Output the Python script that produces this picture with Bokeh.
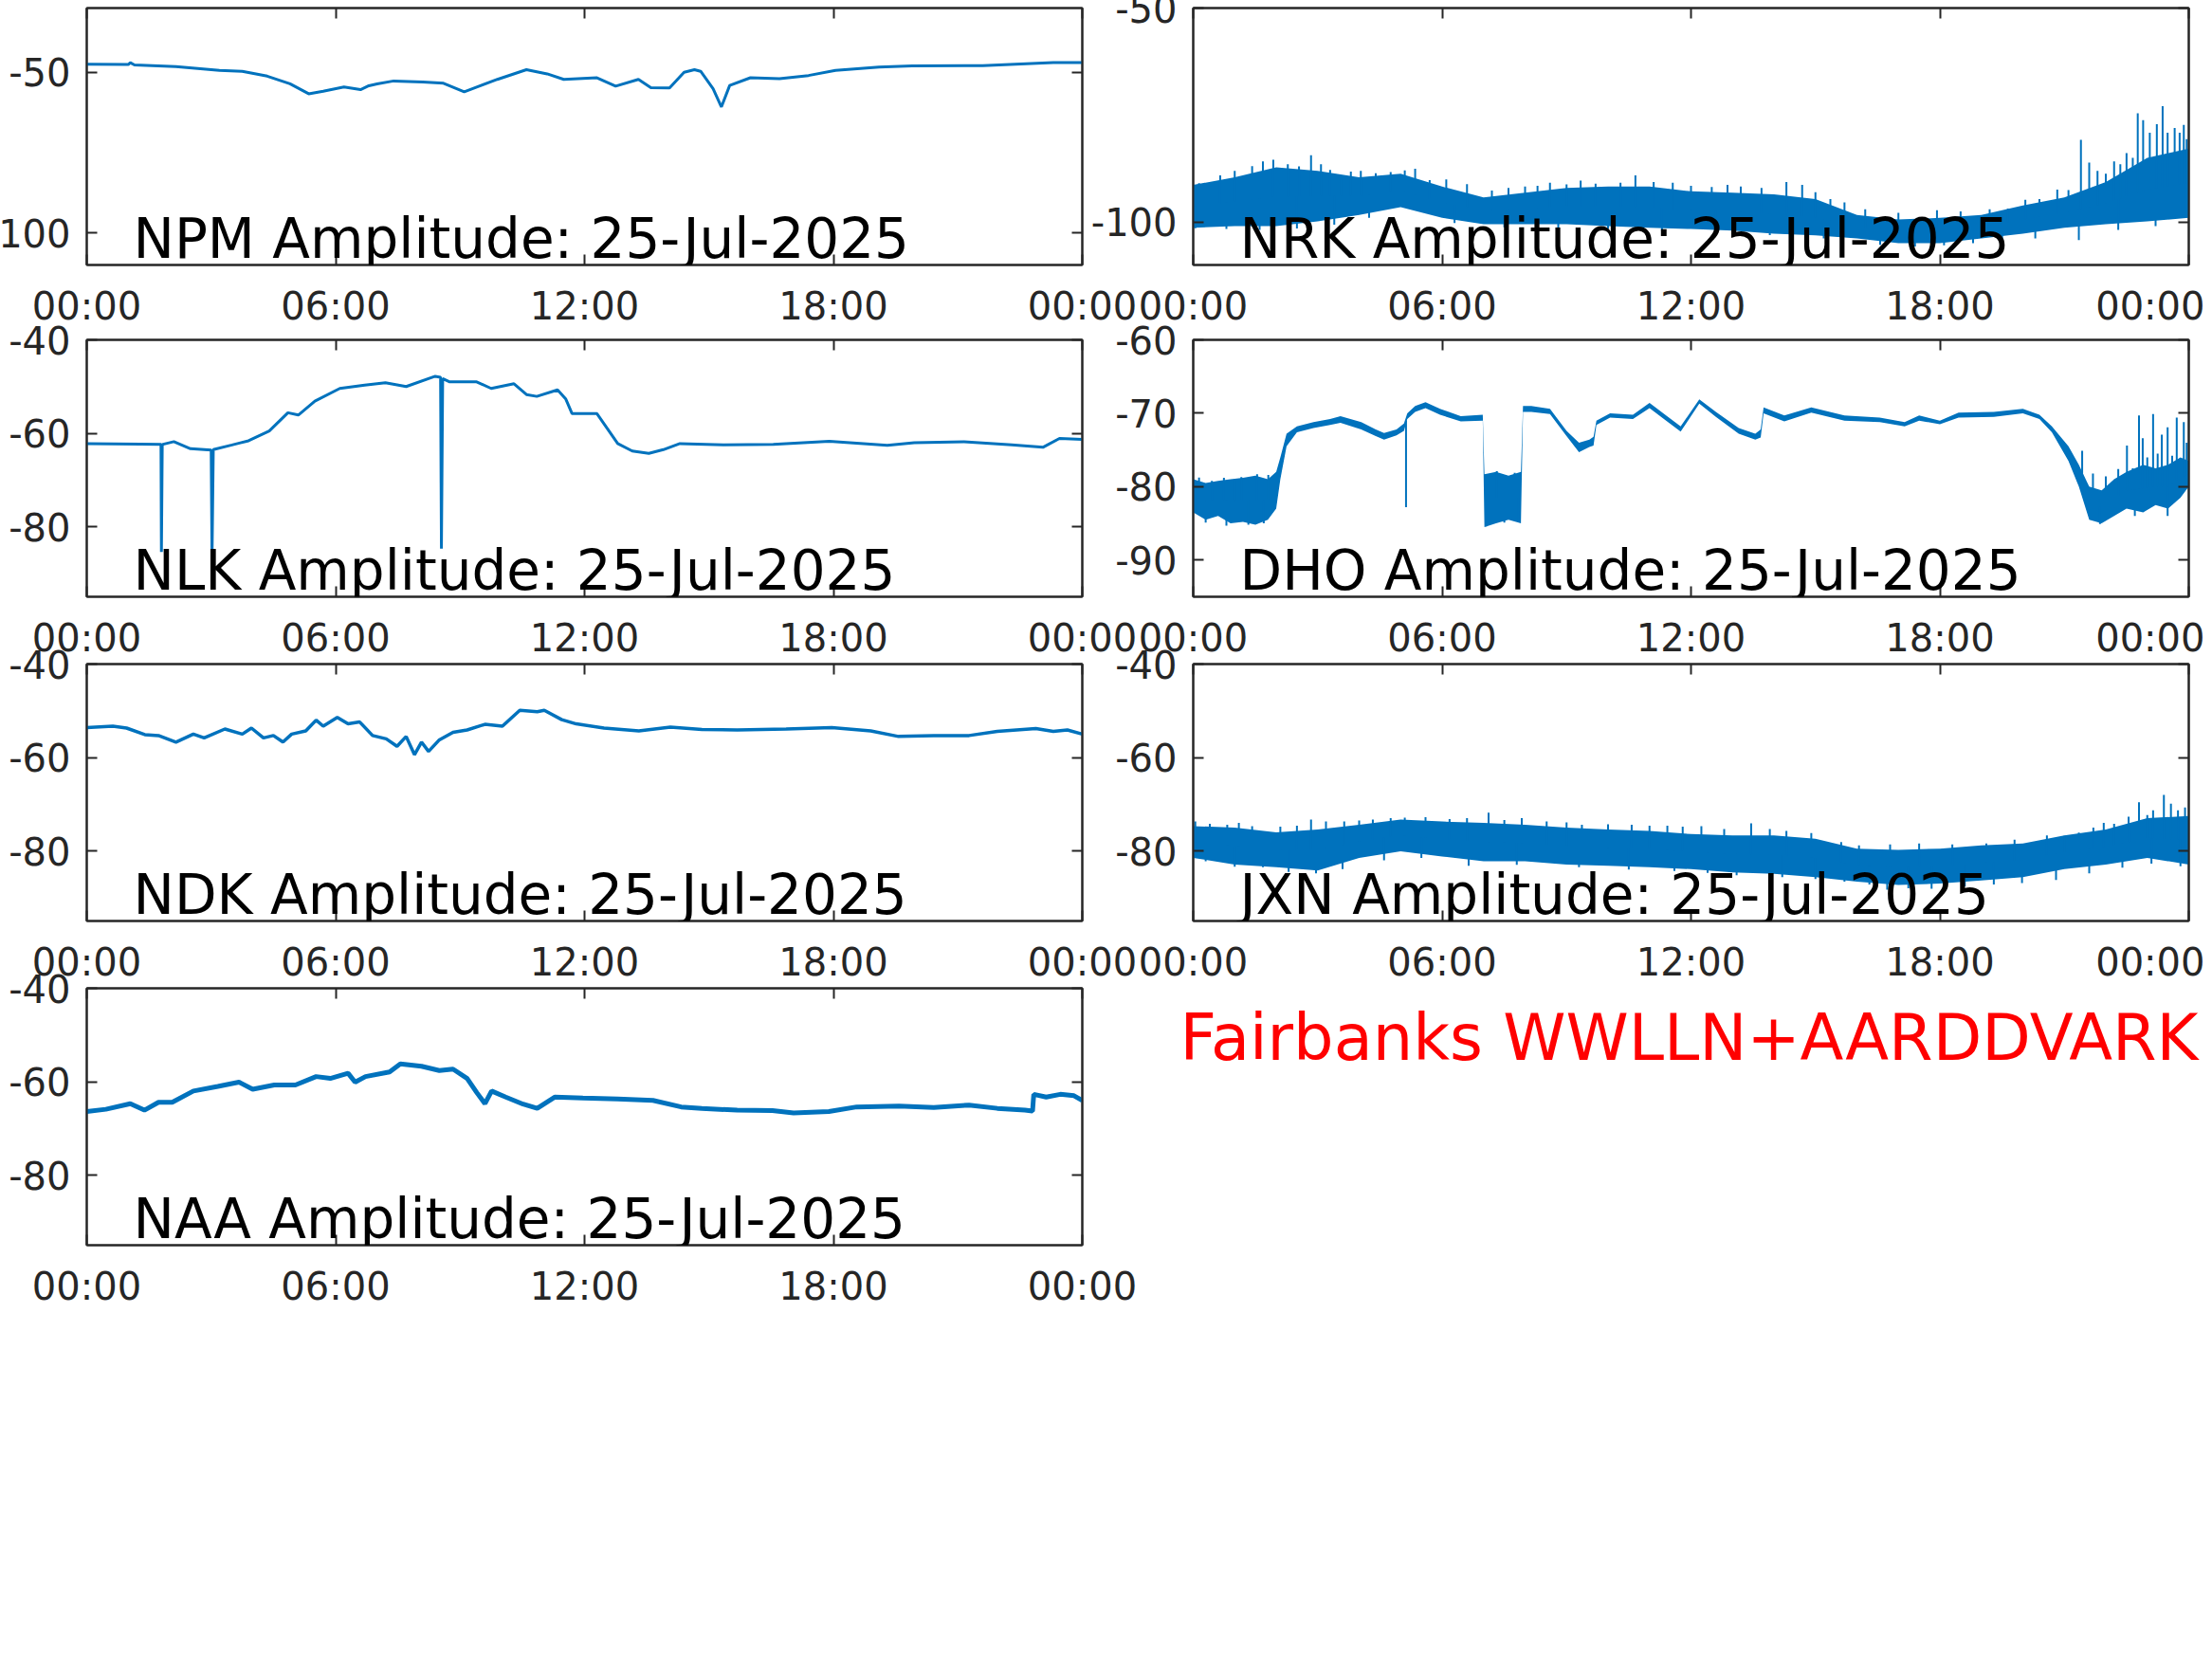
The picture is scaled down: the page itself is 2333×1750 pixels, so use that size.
import numpy as np
from datetime import datetime, timezone
from bokeh.plotting import figure
from bokeh.layouts import column, row
from bokeh.models import (Range1d, FixedTicker, DatetimeTickFormatter, LinearAxis, NumeralTickFormatter,
                          DatetimeAxis, Label, CustomJSTickFormatter)
from bokeh.embed import file_html
from bokeh.resources import INLINE

# ---------------- data ----------------
DATE_TEXT = "25-Jul-2025"
STATIONS = ["NPM", "NRK", "NLK", "DHO", "NDK", "JXN", "NAA"]
HOUR_TICKS = [0, 6, 12, 18, 24]
FOOTER = "Fairbanks WWLLN+AARDDVARK"

NPM_T = [0, 1.0, 1.05, 1.15, 2.15, 3.2, 3.75, 4.35, 4.9, 5.35, 5.7, 6.2, 6.6, 6.8, 7.0, 7.4, 8.1, 8.6, 9.1, 9.4,
         9.9, 10.6, 11.1, 11.5, 12.3, 12.75, 13.3, 13.6, 14.05, 14.4, 14.65, 14.8, 15.1, 15.3, 15.5, 16.0, 16.7,
         17.4, 18.05, 19.1, 19.9, 21.6, 23.3, 24]
NPM_V = [-47.5, -47.6, -47.0, -47.7, -48.2, -49.4, -49.7, -51.2, -53.6, -56.7, -55.9, -54.6, -55.4, -54.2, -53.6,
         -52.7, -53.0, -53.4, -56.1, -54.6, -52.2, -49.2, -50.5, -52.2, -51.7, -54.3, -52.2, -54.8, -54.9, -50.0,
         -49.2, -49.7, -55.1, -60.8, -54.1, -51.7, -52.0, -51.0, -49.4, -48.4, -48.0, -47.9, -47.0, -47.0]

NRK_T = list(range(25))
NRK_HI = [-91.3, -89.5, -87.2, -88.0, -89.5, -88.7, -91.7, -94.2, -93.1, -92.0, -91.7, -91.7, -92.8, -93.1, -93.5,
          -94.6, -98.3, -99.4, -99.0, -98.3, -96.1, -94.2, -90.6, -85.0, -82.8]
NRK_LO = [-101.3, -100.9, -100.9, -99.8, -98.3, -96.5, -99.0, -100.5, -100.5, -100.5, -100.9, -101.3, -101.6,
          -102.0, -102.7, -103.1, -103.8, -104.9, -104.9, -103.8, -102.7, -101.3, -100.5, -99.8, -99.0]
NRK_SPK_T = [0.14, 0.65, 1.0, 1.42, 1.68, 1.93, 2.28, 2.55, 2.84, 3.08, 3.3, 3.56, 3.8, 4.04, 4.4, 4.76, 5.1, 5.35,
             5.7, 6.1, 6.6, 7.2, 7.6, 8.0, 8.3, 8.6, 9.0, 9.34, 9.7, 10.3, 10.66, 11.1, 11.56, 12.0, 12.5, 12.88,
             13.2, 13.7, 14.3, 14.68, 15.0, 15.36, 15.7, 16.2, 17.0, 17.93, 18.5, 19.2, 19.64, 20.06, 20.4, 20.83,
             21.1, 21.4, 21.6, 21.8, 22.0, 22.2, 22.35, 22.5, 22.65, 22.77, 22.9, 23.06, 23.23, 23.37, 23.49, 23.66,
             23.78, 23.88, 23.95,
             0.05, 0.8, 1.6, 2.5, 3.4, 4.24, 6.3, 7.5, 8.8, 10.0, 11.3, 12.6, 13.9, 15.2, 16.56, 17.4, 18.1, 18.8,
             19.5, 20.3, 21.35, 22.3, 23.2]
NRK_SPK_V = [-90.9, -89.1, -88.0, -86.9, -85.8, -85.4, -86.5, -87.0, -84.4, -86.5, -87.8, -89.8, -88.2, -88.0,
             -88.6, -88.3, -87.9, -87.5, -90.2, -90.0, -91.1, -92.6, -92.0, -91.7, -91.5, -90.8, -91.2, -90.3,
             -91.0, -90.8, -89.1, -90.6, -90.8, -91.5, -91.8, -91.3, -91.7, -92.0, -90.6, -91.3, -93.0, -94.6,
             -95.4, -97.0, -97.8, -97.2, -97.5, -97.0, -96.8, -94.8, -94.6, -92.4, -92.5, -80.8, -86.1, -88.0,
             -88.7, -85.8, -86.5, -83.9, -85.0, -74.6, -76.2, -79.1, -77.1, -72.9, -79.1, -78.0, -79.1, -77.3,
             -80.6,
             -101.4, -101.6, -101.8, -101.5, -100.6, -99.0, -100.2, -101.2, -101.3, -101.6, -102.0, -102.4, -103.0,
             -103.8, -105.3, -105.7, -105.4, -104.9, -104.6, -103.8, -104.2, -101.8, -100.9]

NLK_T = [0, 1.3, 1.79, 1.80, 1.82, 2.1, 2.5, 3.0, 3.02, 3.05, 3.5, 3.9, 4.4, 4.85, 5.1, 5.5, 6.1, 6.7, 7.2, 7.7,
         8.4, 8.53, 8.55, 8.58, 8.75, 9.4, 9.75, 10.3, 10.6, 10.85, 11.35, 11.55, 11.7, 12.3, 12.8, 13.15, 13.55,
         13.9, 14.3, 15.35, 16.55, 17.9, 19.3, 19.95, 21.15, 22.3, 23.05, 23.45, 24]
NLK_V = [-62.2, -62.3, -62.4, -85.4, -62.4, -61.8, -63.3, -63.6, -86.7, -63.5, -62.5, -61.6, -59.5, -55.6, -56.1,
         -53.1, -50.4, -49.7, -49.2, -50.0, -47.8, -48.0, -84.7, -48.3, -49.0, -49.0, -50.4, -49.4, -51.7, -52.1,
         -50.7, -52.7, -55.8, -55.8, -62.2, -63.8, -64.3, -63.5, -62.2, -62.5, -62.4, -61.7, -62.6, -62.0, -61.8,
         -62.5, -63.0, -61.1, -61.3]

DHO_T = [0.0, 0.3, 0.6, 0.9, 1.2, 1.5, 1.8, 2.0, 2.1, 2.25, 2.5, 2.9, 3.3, 3.55, 4.05, 4.4, 4.6, 4.9, 5.08, 5.16,
         5.35, 5.6, 5.95, 6.45, 6.98, 7.02, 7.3, 7.6, 7.9, 7.95, 8.15, 8.6, 9.0, 9.3, 9.55, 9.65, 9.72, 10.05, 10.6,
         11.0, 11.4, 11.75, 12.2, 12.6, 13.15, 13.55, 13.68, 13.75, 14.25, 14.9, 15.7, 16.55, 17.15, 17.5, 18.0,
         18.45, 19.3, 20.0, 20.4, 20.7, 21.1, 21.35, 21.6, 21.9, 22.2, 22.5, 22.9, 23.2, 23.5, 23.8, 24.0]
DHO_LO = [-83.5, -84.5, -84.0, -85.0, -84.8, -85.2, -84.5, -83.0, -79.0, -74.5, -72.6, -72.0, -71.6, -71.3, -72.2,
          -73.1, -73.6, -73.0, -72.4, -70.8, -69.8, -69.3, -70.2, -71.1, -71.0, -85.5, -85.0, -84.5, -85.0, -69.8,
          -69.8, -70.1, -73.1, -75.3, -74.6, -74.4, -71.6, -70.6, -70.8, -69.3, -71.0, -72.5, -68.7, -70.5, -72.8,
          -73.6, -73.3, -70.0, -71.1, -69.9, -71.0, -71.2, -71.8, -71.0, -71.5, -70.6, -70.5, -70.0, -70.8, -72.6,
          -76.5, -80.0, -84.5, -85.0, -84.0, -83.0, -83.5, -82.5, -83.0, -81.5, -80.0]
DHO_HI = [-79.0, -79.5, -79.2, -79.0, -78.8, -78.5, -79.0, -78.0, -76.0, -72.8, -71.8, -71.2, -70.8, -70.4, -71.2,
          -72.2, -72.7, -72.2, -71.4, -70.0, -69.0, -68.5, -69.4, -70.4, -70.2, -78.3, -78.0, -78.5, -78.0, -69.0,
          -69.0, -69.4, -72.4, -74.0, -73.6, -73.2, -71.0, -70.0, -70.2, -68.6, -70.3, -71.8, -68.1, -69.8, -72.0,
          -72.8, -72.2, -69.2, -70.3, -69.2, -70.3, -70.6, -71.2, -70.3, -71.0, -69.9, -69.8, -69.4, -70.2, -71.8,
          -74.5, -77.0, -80.0, -80.5, -79.0, -78.0, -77.0, -77.5, -77.0, -76.0, -76.5]
DHO_SPK_T = [0.14, 0.45, 0.74, 1.0, 1.16, 1.54, 1.81, 0.3, 0.8, 1.33, 1.7, 5.13, 7.06, 7.2, 7.32, 7.5, 7.75, 7.83,
             21.43, 21.69, 22.0, 22.3, 22.51, 22.65, 22.8, 22.89, 23.0, 23.14, 23.25, 23.35, 23.49, 23.6, 23.71,
             23.88, 23.95, 21.86, 22.7, 23.49]
DHO_SPK_V = [-78.75, -79.2, -78.8, -79.0, -78.7, -78.3, -78.4, -84.9, -85.3, -85.2, -85.0, -82.8, -85.4, -78.6,
             -77.9, -84.9, -78.1, -84.8, -75.1, -78.2, -78.6, -77.6, -74.4, -77.5, -70.3, -73.4, -76.0, -70.1,
             -75.5, -72.9, -71.9, -75.8, -70.6, -71.2, -74.0, -85.1, -84.0, -84.0]

NDK_T = [0, 0.63, 0.96, 1.4, 1.73, 2.15, 2.57, 2.83, 3.33, 3.75, 3.97, 4.26, 4.5, 4.73, 4.94, 5.28, 5.53, 5.7, 6.04,
         6.3, 6.58, 6.89, 7.22, 7.48, 7.7, 7.9, 8.07, 8.24, 8.49, 8.83, 9.17, 9.6, 10.02, 10.44, 10.86, 11.03, 11.45,
         11.8, 12.47, 13.31, 14.07, 14.83, 15.68, 16.86, 17.96, 18.9, 19.57, 20.42, 21.27, 21.95, 22.88, 23.3, 23.64,
         24]
NDK_V = [-53.6, -53.3, -53.7, -55.1, -55.3, -56.7, -55.0, -55.8, -53.9, -55.0, -53.7, -55.8, -55.3, -56.7, -55.0,
         -54.3, -52.0, -53.3, -51.4, -52.8, -52.4, -55.3, -56.0, -57.6, -55.5, -59.4, -56.7, -58.7, -56.3, -54.6,
         -54.1, -52.9, -53.3, -49.9, -50.2, -49.9, -51.9, -52.8, -53.7, -54.3, -53.5, -54.0, -54.1, -53.9, -53.6,
         -54.3, -55.5, -55.3, -55.3, -54.4, -53.8, -54.4, -54.1, -55.0]

JXN_T = list(range(25))
JXN_HI = [-74.7, -75.0, -76.0, -75.4, -74.4, -73.3, -73.7, -74.0, -74.4, -75.0, -75.4, -75.7, -76.4, -76.7, -76.7,
          -77.4, -79.5, -79.8, -79.5, -78.8, -78.4, -76.7, -75.4, -73.0, -72.5]
JXN_LO = [-81.5, -82.9, -83.5, -84.2, -81.5, -80.1, -81.2, -82.2, -82.2, -82.9, -83.2, -83.5, -83.9, -84.6, -84.9,
          -85.6, -86.6, -87.3, -87.0, -86.3, -85.6, -83.9, -82.9, -81.5, -82.9]
JXN_SPK_T = [0.05, 0.4, 0.82, 1.1, 1.42, 2.1, 2.5, 2.84, 3.2, 3.64, 4.0, 4.33, 4.76, 5.1, 5.6, 6.18, 6.6, 7.12,
             7.5, 7.92, 8.52, 9.0, 9.37, 10.0, 10.57, 11.0, 11.43, 11.8, 12.25, 12.8, 13.45, 13.9, 14.3, 14.9,
             15.62, 16.05, 16.8, 17.5, 18.3, 19.12, 19.8, 20.58, 21.0, 21.35, 21.7, 21.95, 22.2, 22.55, 22.8,
             23.0, 23.14, 23.4, 23.57, 23.74, 23.91,
             0.3, 1.0, 1.68, 2.3, 2.96, 3.6, 4.6, 5.5, 6.64, 7.8, 9.3, 10.5, 11.6, 12.4, 13.1, 14.2, 15.0, 15.7,
             16.3, 16.73, 17.24, 17.8, 18.6, 19.3, 19.98, 20.8, 21.6, 22.4, 23.1, 23.8]
JXN_SPK_V = [-73.7, -74.2, -74.4, -74.0, -74.7, -74.8, -74.6, -73.3, -73.7, -73.7, -73.5, -73.3, -73.0, -72.9,
             -72.8, -73.2, -73.0, -71.8, -73.4, -73.0, -73.7, -73.9, -74.4, -74.3, -74.4, -74.6, -74.6, -74.8,
             -74.7, -75.3, -74.1, -75.3, -75.7, -76.2, -78.1, -78.8, -78.6, -78.4, -78.6, -78.4, -77.6, -76.7,
             -76.8, -76.1, -75.0, -74.0, -74.2, -72.7, -69.6, -72.3, -71.3, -68.0, -69.9, -71.3, -70.7,
             -82.2, -83.4, -83.5, -84.5, -84.8, -83.9, -82.0, -81.5, -83.2, -83.0, -83.5, -84.0, -84.3, -84.7,
             -85.2, -85.6, -86.0, -86.6, -87.2, -88.3, -88.0, -88.1, -87.6, -87.2, -86.9, -86.2, -84.8, -83.6,
             -82.7, -83.3]

NAA_T = [0, 0.46, 1.05, 1.39, 1.73, 2.06, 2.57, 3.16, 3.67, 4.0, 4.52, 5.03, 5.53, 5.87, 6.3, 6.47, 6.72, 7.3, 7.56,
         8.07, 8.5, 8.83, 9.17, 9.4, 9.6, 9.76, 10.1, 10.52, 10.86, 11.28, 11.96, 12.8, 13.65, 14.33, 14.83, 15.68,
         16.53, 17.04, 17.89, 18.56, 19.58, 20.42, 21.27, 21.95, 22.62, 22.8, 22.83, 23.13, 23.47, 23.8, 24]
NAA_V = [-66.4, -65.9, -64.7, -66.1, -64.4, -64.4, -62.0, -61.0, -60.1, -61.6, -60.7, -60.7, -58.9, -59.3, -58.2,
         -60.1, -58.9, -57.9, -56.2, -56.7, -57.6, -57.3, -59.3, -62.3, -64.7, -62.0, -63.3, -64.8, -65.7, -63.3,
         -63.5, -63.7, -64.0, -65.4, -65.7, -66.1, -66.2, -66.7, -66.4, -65.4, -65.2, -65.5, -65.0, -65.7, -66.1,
         -66.3, -62.7, -63.3, -62.7, -63.0, -64.0]

Y_RANGES = {"NPM": (-110, -30), "NRK": (-110, -50), "NLK": (-95, -40), "DHO": (-95, -60),
            "NDK": (-95, -40), "JXN": (-95, -40), "NAA": (-95, -40)}
Y_TICKS = {"NPM": [-100, -50], "NRK": [-100, -50], "NLK": [-80, -60, -40], "DHO": [-90, -80, -70, -60],
           "NDK": [-80, -60, -40], "JXN": [-80, -60, -40], "NAA": [-80, -60, -40]}

# ---------------- styling ----------------
BLUE = "#0072BD"
AXC = "#262626"
FONT = "DejaVu Sans"
T0 = datetime(2025, 7, 25, tzinfo=timezone.utc).timestamp() * 1000.0


def ms(hours):
    return T0 + np.asarray(hours, dtype=float) * 3600000.0


FMT = "%H:%M"
dt_fmt = DatetimeTickFormatter(microseconds=FMT, milliseconds=FMT, seconds=FMT, minsec=FMT, minutes=FMT,
                               hourmin=FMT, hours=FMT, days=FMT, months=FMT, years=FMT,
                               strip_leading_zeros=False)
blank_fmt = CustomJSTickFormatter(code="return ''")


def style_axis(ax, labels):
    ax.axis_line_color = AXC
    ax.axis_line_width = 2
    ax.major_tick_line_color = AXC
    ax.major_tick_line_width = 2
    ax.major_tick_in = 11
    ax.major_tick_out = 0
    ax.minor_tick_in = 0
    ax.minor_tick_out = 0
    ax.minor_tick_line_color = None
    if labels:
        ax.major_label_text_font = FONT
        ax.major_label_text_font_size = "40px"
        ax.major_label_text_color = AXC
    else:
        ax.formatter = blank_fmt
        ax.major_label_text_font_size = "0px"
        ax.major_label_standoff = 0


def panel(name, width, right_border, margin):
    ylo, yhi = Y_RANGES[name]
    p = figure(width=width, height=371, x_axis_type="datetime",
               x_range=Range1d(ms(0), ms(24)), y_range=Range1d(ylo, yhi),
               output_backend="svg", toolbar_location=None,
               min_border_left=120, min_border_right=right_border,
               min_border_top=20, min_border_bottom=80)
    p.border_fill_color = None
    p.background_fill_color = "white"
    p.outline_line_color = AXC
    p.outline_line_width = 2
    p.grid.visible = False
    xt = FixedTicker(ticks=list(ms(HOUR_TICKS)))
    yt = FixedTicker(ticks=Y_TICKS[name])
    xa = p.xaxis[0]
    xa.ticker = xt
    xa.formatter = dt_fmt
    style_axis(xa, True)
    xa.major_label_standoff = 20
    ya = p.yaxis[0]
    ya.ticker = yt
    ya.formatter = NumeralTickFormatter(format="0")
    style_axis(ya, True)
    ya.major_label_standoff = 17
    ra = LinearAxis(ticker=yt)
    style_axis(ra, False)
    p.add_layout(ra, "right")
    ta = DatetimeAxis(ticker=xt)
    style_axis(ta, False)
    p.add_layout(ta, "above")
    p.add_layout(Label(x=ms(0), y=ylo, x_offset=49, y_offset=28, text=f"{name} Amplitude: {DATE_TEXT}",
                       text_font=FONT, text_font_size="58px", text_color="black",
                       text_baseline="alphabetic"))
    p.margin = margin
    return p


def add_band(p, t, lo, hi, spk_t, spk_v):
    p.varea(x=ms(t), y1=lo, y2=hi, fill_color=BLUE)
    mid = (np.asarray(lo) + np.asarray(hi)) / 2.0
    base = np.interp(spk_t, t, mid)
    p.segment(x0=ms(spk_t), y0=spk_v, x1=ms(spk_t), y1=base, line_color=BLUE, line_width=2)


LW, RW = 1240, 1187
LM, RM = -29, -73

f_npm = panel("NPM", LW, 70, (-12, 0, 0, LM))
f_npm.line(ms(NPM_T), NPM_V, line_color=BLUE, line_width=3)

f_nrk = panel("NRK", RW, 17, (-12, 0, 0, RM))
add_band(f_nrk, NRK_T, NRK_LO, NRK_HI, NRK_SPK_T, NRK_SPK_V)

f_nlk = panel("NLK", LW, 70, (-21, 0, 0, LM))
f_nlk.line(ms(NLK_T), NLK_V, line_color=BLUE, line_width=3)

f_dho = panel("DHO", RW, 17, (-21, 0, 0, RM))
add_band(f_dho, DHO_T, DHO_LO, DHO_HI, DHO_SPK_T, DHO_SPK_V)

f_ndk = panel("NDK", LW, 70, (-29, 0, 0, LM))
f_ndk.line(ms(NDK_T), NDK_V, line_color=BLUE, line_width=3.5)

f_jxn = panel("JXN", RW, 17, (-29, 0, 0, RM))
add_band(f_jxn, JXN_T, JXN_LO, JXN_HI, JXN_SPK_T, JXN_SPK_V)

f_naa = panel("NAA", LW, 70, (-29, 0, 0, LM))
f_naa.line(ms(NAA_T), NAA_V, line_color=BLUE, line_width=5)

# footer text panel (pixel-like coordinates, y pointing down)
FW = 1114
f_foot = figure(width=FW, height=371, x_range=Range1d(0, FW), y_range=Range1d(371, 0),
                x_axis_type=None, y_axis_type=None, output_backend="svg", toolbar_location=None,
                min_border=0)
f_foot.outline_line_color = None
f_foot.border_fill_color = None
f_foot.background_fill_color = None
f_foot.grid.visible = False
f_foot.add_layout(Label(x=33, y=72, text=FOOTER, text_font=FONT, text_font_size="67px",
                        text_color="red", text_baseline="alphabetic"))
f_foot.margin = (-29, 0, 0, 0)

layout = column(row(f_npm, f_nrk), row(f_nlk, f_dho), row(f_ndk, f_jxn), row(f_naa, f_foot))

open("out.html", "w").write(file_html(layout, INLINE))
